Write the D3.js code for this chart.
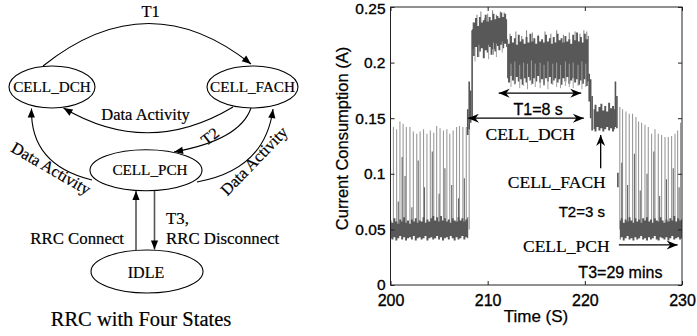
<!DOCTYPE html>
<html><head><meta charset="utf-8">
<script src="https://cdn.jsdelivr.net/npm/d3@7"></script>
<style>body{margin:0;background:#fff}svg{display:block}</style>
</head><body>
<svg id="c" width="697" height="336"></svg>
<script>
// ---------------- DATA ----------------
const xTicks = [200, 210, 220, 230];
const yTicks = [0, 0.05, 0.1, 0.15, 0.2, 0.25];
const yTickLabels = ["0", "0.05", "0.1", "0.15", "0.2", "0.25"];

// dense noise band readings: [time s, low A, high A]
const pchBandA = [[200.0,.042,.058],[200.2,.041,.056],[200.4,.043,.060],[200.6,.040,.057],[200.8,.042,.055],[201.0,.044,.059],[201.2,.041,.057],[201.4,.043,.061],[201.6,.040,.056],[201.8,.042,.058],[202.0,.043,.055],[202.2,.041,.059],[202.4,.044,.057],[202.6,.040,.060],[202.8,.042,.056],[203.0,.043,.058],[203.2,.041,.057],[203.4,.042,.061],[203.6,.044,.056],[203.8,.040,.059],[204.0,.042,.057],[204.2,.043,.060],[204.4,.041,.062],[204.6,.042,.058],[204.8,.044,.061],[205.0,.041,.057],[205.2,.043,.062],[205.4,.040,.058],[205.6,.042,.060],[205.8,.043,.057],[206.0,.041,.059],[206.2,.044,.056],[206.4,.042,.060],[206.6,.040,.058],[206.8,.043,.057],[207.0,.041,.061],[207.2,.042,.058],[207.4,.044,.060],[207.6,.041,.057],[207.8,.043,.059],[208.0,.042,.061]];
const dchBandA = [[208.4,.212,.230],[208.6,.206,.236],[208.8,.214,.240],[209.0,.205,.233],[209.2,.210,.241],[209.4,.213,.236],[209.6,.204,.238],[209.8,.211,.243],[210.0,.209,.237],[210.2,.214,.241],[210.4,.207,.238],[210.6,.212,.244],[210.8,.210,.239],[211.0,.215,.242],[211.2,.211,.240],[211.4,.216,.245],[211.6,.213,.241],[211.8,.217,.244],[212.0,.214,.239]];
const dchBandB = [[212.0,.186,.221],[212.2,.182,.217],[212.4,.188,.224],[212.6,.184,.218],[212.8,.181,.222],[213.0,.187,.216],[213.2,.183,.225],[213.4,.185,.219],[213.6,.180,.221],[213.8,.186,.217],[214.0,.182,.223],[214.2,.187,.218],[214.4,.184,.226],[214.6,.181,.219],[214.8,.186,.222],[215.0,.183,.217],[215.2,.188,.224],[215.4,.182,.219],[215.6,.185,.221],[215.8,.180,.218],[216.0,.186,.225],[216.2,.183,.219],[216.4,.187,.222],[216.6,.181,.217],[216.8,.184,.223],[217.0,.186,.218],[217.2,.182,.226],[217.4,.185,.220],[217.6,.180,.222],[217.8,.186,.218],[218.0,.183,.224],[218.2,.187,.219],[218.4,.181,.221],[218.6,.184,.217],[218.8,.186,.225],[219.0,.182,.220],[219.2,.185,.227],[219.4,.180,.219],[219.6,.184,.223],[219.8,.181,.218],[220.0,.185,.226],[220.2,.179,.221],[220.4,.183,.224]];
const fachBand = [[220.9,.140,.158],[221.1,.138,.162],[221.3,.142,.156],[221.5,.139,.160],[221.7,.141,.163],[221.9,.138,.157],[222.1,.140,.161],[222.3,.142,.156],[222.5,.139,.164],[222.7,.141,.159],[222.9,.138,.161],[223.1,.140,.158]];
const pchBandB = [[223.6,.041,.058],[223.8,.043,.060],[224.0,.040,.056],[224.2,.042,.059],[224.4,.044,.057],[224.6,.041,.061],[224.8,.042,.058],[225.0,.040,.056],[225.2,.043,.060],[225.4,.041,.057],[225.6,.042,.059],[225.8,.044,.056],[226.0,.041,.060],[226.2,.042,.058],[226.4,.040,.061],[226.6,.043,.057],[226.8,.041,.059],[227.0,.042,.056],[227.2,.044,.060],[227.4,.041,.058],[227.6,.040,.057],[227.8,.043,.061],[228.0,.042,.058],[228.2,.041,.056],[228.4,.043,.059],[228.6,.040,.057],[228.8,.042,.060],[229.0,.044,.058],[229.2,.041,.062],[229.4,.042,.057],[229.6,.043,.060],[229.8,.041,.058],[230.0,.042,.059]];

// paging spikes in CELL_PCH: [time, peak A]
const pchSpikes = [[200.3,.142],[200.63,.140],[200.97,.147],[201.3,.145],[201.63,.142],[202.0,.142],[202.35,.138],[202.7,.136],[203.05,.138],[203.4,.140],[203.75,.136],[204.1,.139],[204.45,.137],[204.75,.143],[205.1,.141],[205.45,.139],[205.8,.140],[206.1,.136],[206.45,.139],[206.8,.142],[207.1,.143],[207.45,.142],[207.8,.142],[208.1,.144],
  [223.6,.160],[223.88,.158],[224.23,.156],[224.57,.154],[224.91,.154],[225.26,.151],[225.53,.147],[225.84,.146],[226.19,.144],[226.53,.142],[226.87,.136],[227.22,.140],[227.56,.136],[227.9,.135],[228.25,.133],[228.59,.133],[228.93,.134],[229.28,.136],[229.55,.139],[229.85,.146]];
const pchMidSpikes = [[200.8,.075],[201.2,.115],[201.5,.098],[202.2,.070],[202.85,.112],[203.5,.088],[204.3,.120],[205.0,.082],[205.6,.105],[206.3,.090],[207.0,.078],[207.6,.096],
  [223.8,.110],[224.4,.090],[225.1,.118],[225.7,.085],[226.4,.100],[227.1,.120],[227.7,.080],[228.4,.095],[229.1,.105],[229.7,.088]];
// spikes above the DCH bands: [time, peak A]
const dchSpikesUp = [[208.5,.236],[208.9,.243],[209.3,.246],[209.7,.240],[210.0,.244],[210.5,.247],[210.9,.243],[211.3,.246],[211.7,.245],
  [212.3,.226],[212.9,.228],[213.5,.224],[214.0,.229],[214.6,.227],[215.2,.225],[215.9,.228],[216.5,.226],[217.1,.229],[217.8,.225],[218.4,.227],[219.0,.228],[219.5,.226],[219.9,.229],[220.2,.228]];
// light streaks inside / below DCH bands: [time, from A, to A]
const dchStreaks = [[208.7,.214,.201],[209.1,.216,.205],[210.1,.216,.203],[210.6,.218,.207],[210.9,.217,.205],[211.5,.219,.209],
  [212.4,.199,.178],[212.8,.201,.180],[213.3,.198,.177],[213.7,.200,.179],[214.1,.199,.176],[214.5,.202,.180],[214.9,.199,.178],[215.4,.200,.177],[215.8,.198,.179],[216.2,.201,.176],[216.7,.199,.180],[217.1,.200,.178],[217.5,.198,.177],[218.0,.201,.179],[218.4,.199,.178],[218.8,.200,.177],[219.3,.198,.179],[219.7,.201,.176],[220.1,.199,.178]];
// state-transition edges: [time, low A, high A]
const edges = [[207.95,.135,.158],[208.1,.140,.183],[208.25,.146,.175],[208.4,.150,.229],[220.45,.165,.190],[220.6,.150,.185],[220.75,.139,.170],[223.15,.142,.183],[223.3,.141,.170],[223.4,.088,.101]];

// annotations (data coordinates)
const dblArrows = [{t0:211.13, t1:219.63, v:0.1725}, {t0:207.97, t1:219.9, v:0.150}];
const oneArrows = [{t0:221.63, v0:0.105, t1:221.63, v1:0.135}, {t0:223.5, v0:0.036, t1:229.55, v1:0.036}];
const plotLabels = [
  {text:"T1=8 s", t:215.2, v:0.1528, serif:false},
  {text:"CELL_DCH", t:214.38, v:0.1304, serif:true},
  {text:"CELL_FACH", t:217.11, v:0.0870, serif:true},
  {text:"T2=3 s", t:219.69, v:0.0614, serif:false},
  {text:"CELL_PCH", t:218.09, v:0.0300, serif:true},
  {text:"T3=29 mins", t:223.66, v:0.0066, serif:false}
];

// ---------------- DRAWING ----------------
const svg = d3.select("#c");
const defs = svg.append("defs");
defs.append("marker").attr("id","dA").attr("viewBox","-10 -5 10 10").attr("refX",0).attr("refY",0)
  .attr("markerWidth",10).attr("markerHeight",10).attr("markerUnits","userSpaceOnUse").attr("orient","auto")
  .append("path").attr("d","M0,0L-9,-3.6L-9,3.6Z").attr("fill","#000");
defs.append("marker").attr("id","pA").attr("viewBox","-12 -6 12 12").attr("refX",0).attr("refY",0)
  .attr("markerWidth",12).attr("markerHeight",12).attr("markerUnits","userSpaceOnUse").attr("orient","auto-start-reverse")
  .append("path").attr("d","M0,0L-11,-4.5L-7.5,0L-11,4.5Z").attr("fill","#000");

// ---- left: state diagram ----
const serif = "'Liberation Serif','Times New Roman',serif";
const sans = "'Liberation Sans',Arial,Helvetica,sans-serif";
const dg = svg.append("g").attr("font-family", serif).attr("fill","#000");
const states = [
  {name:"CELL_DCH", cx:52, cy:87, rx:43, ry:21, ty:92},
  {name:"CELL_FACH", cx:252.5, cy:87, rx:45.5, ry:21, ty:92},
  {name:"CELL_PCH", cx:146, cy:170.3, rx:56, ry:20.5, ty:175, tx:150},
  {name:"IDLE", cx:147, cy:271.5, rx:56, ry:21.5, ty:278, tx:146, fs:16}
];
function qpath(x0,y0,cx,cy,x1,y1){const p=d3.path();p.moveTo(x0,y0);p.quadraticCurveTo(cx,cy,x1,y1);return p.toString();}
function lpath(x0,y0,x1,y1){const p=d3.path();p.moveTo(x0,y0);p.lineTo(x1,y1);return p.toString();}
const edgesDiag = [
  {d:qpath(43,66,148,-18,251,64)},
  {d:qpath(233,107,148,158,63.5,108)},
  {d:qpath(251,108,240,140,174,152)},
  {d:qpath(92,180,30,165,31.5,108.5)},
  {d:qpath(197,182,265,170,273,109)},
  {d:lpath(136,250,136,191), gray:true},
  {d:lpath(154.5,191,154.5,249.5), gray:true}
];
dg.selectAll("path.e").data(edgesDiag).join("path").attr("class","e")
  .attr("d",d=>d.d).attr("fill","none").attr("stroke",d=>d.gray?"#555":"#000")
  .attr("stroke-width",d=>d.gray?1.6:1.1).attr("marker-end","url(#dA)");
dg.selectAll("ellipse").data(states).join("ellipse")
  .attr("cx",d=>d.cx).attr("cy",d=>d.cy).attr("rx",d=>d.rx).attr("ry",d=>d.ry)
  .attr("fill","#fff").attr("stroke","#000").attr("stroke-width",1.1);
dg.selectAll("text.s").data(states).join("text").attr("class","s")
  .attr("x",d=>d.tx||d.cx).attr("y",d=>d.ty).attr("text-anchor","middle")
  .attr("font-size",d=>(d.fs||15.2)+"px").attr("stroke","#000").attr("stroke-width",0.2).text(d=>d.name);
const diagLabels = [
  {text:"T1", x:150.7, y:17.3, fs:16.5},
  {text:"Data Activity", x:145.5, y:120, fs:16.5},
  {text:"T2", x:210, y:136.5, fs:16, rot:-38, c:true},
  {text:"Data Activity", x:51, y:168.5, fs:16.5, rot:30, c:true},
  {text:"Data Activity", x:254, y:161, fs:16.5, rot:-46, c:true},
  {text:"RRC Connect", x:124, y:244.3, fs:16.8, a:"end"},
  {text:"T3,", x:166, y:223.5, fs:16.8, a:"start"},
  {text:"RRC Disconnect", x:166, y:244.3, fs:16.8, a:"start"},
  {text:"RRC with Four States", x:141, y:326, fs:20.5}
];
dg.selectAll("text.l").data(diagLabels).join("text").attr("class","l")
  .attr("transform",d=>`translate(${d.x},${d.y})`+(d.rot?` rotate(${d.rot})`:""))
  .attr("text-anchor",d=>d.a||"middle").attr("dy",d=>d.c?"0.33em":null)
  .attr("font-size",d=>d.fs+"px").attr("stroke","#000").attr("stroke-width",0.2).text(d=>d.text);

// ---- right: current consumption plot ----
const x = d3.scaleLinear().domain([200,230]).range([390.5,682]);
const y = d3.scaleLinear().domain([0,0.25]).range([285,7]);
const pg = svg.append("g");
defs.append("clipPath").attr("id","clip").append("rect")
  .attr("x",390.5).attr("y",7).attr("width",682-390.5).attr("height",285-7);
const sig = pg.append("g").attr("clip-path","url(#clip)");

// light spikes (under bands)
sig.selectAll("line.sp").data(pchSpikes).join("line").attr("class","sp")
  .attr("x1",d=>x(d[0])).attr("x2",d=>x(d[0])).attr("y1",y(0.05)).attr("y2",d=>y(d[1]))
  .attr("stroke","#9a9a9a").attr("stroke-width",1.1);
sig.selectAll("line.su").data(dchSpikesUp).join("line").attr("class","su")
  .attr("x1",d=>x(d[0])).attr("x2",d=>x(d[0])).attr("y1",d=>y(d[1]-0.015)).attr("y2",d=>y(d[1]))
  .attr("stroke","#8a8a8a").attr("stroke-width",1.1);
sig.selectAll("line.mp").data(pchMidSpikes).join("line").attr("class","mp")
  .attr("x1",d=>x(d[0])).attr("x2",d=>x(d[0])).attr("y1",y(0.05)).attr("y2",d=>y(d[1]))
  .attr("stroke","#666").attr("stroke-width",1.1);

const area = d3.area().curve(d3.curveStep).x(d=>x(d[0])).y0(d=>y(d[1])).y1(d=>y(d[2]));
[pchBandA, dchBandA, dchBandB, fachBand, pchBandB].forEach(b=>{
  sig.append("path").datum(b).attr("d",area).attr("fill","#585858");
});
sig.selectAll("line.ed").data(edges).join("line").attr("class","ed")
  .attr("x1",d=>x(d[0])).attr("x2",d=>x(d[0])).attr("y1",d=>y(d[1])).attr("y2",d=>y(d[2]))
  .attr("stroke","#555").attr("stroke-width",1.6);
sig.selectAll("line.st").data(dchStreaks).join("line").attr("class","st")
  .attr("x1",d=>x(d[0])).attr("x2",d=>x(d[0])).attr("y1",d=>y(d[1])).attr("y2",d=>y(d[2]))
  .attr("stroke","#a0a0a0").attr("stroke-width",1);

// axes
const fr = pg.append("g").attr("font-family",sans);
const axB = fr.append("g").attr("transform","translate(0,285)")
  .call(d3.axisBottom(x).tickValues(xTicks).tickFormat(d3.format("d")).tickSizeInner(-4).tickSizeOuter(0).tickPadding(10));
const axT = fr.append("g").attr("transform","translate(0,7)")
  .call(d3.axisTop(x).tickValues(xTicks).tickFormat("").tickSizeInner(-4).tickSizeOuter(0));
const axL = fr.append("g").attr("transform","translate(390.5,0)")
  .call(d3.axisLeft(y).tickValues(yTicks).tickFormat((d,i)=>yTickLabels[i]).tickSizeInner(-4).tickSizeOuter(0).tickPadding(5));
const axR = fr.append("g").attr("transform","translate(682,0)")
  .call(d3.axisRight(y).tickValues(yTicks).tickFormat("").tickSizeInner(-4).tickSizeOuter(0));
[axB,axT,axL,axR].forEach(a=>{a.select(".domain").remove();a.selectAll("line").attr("stroke","#222");});
axB.selectAll("text").attr("font-size","16px").attr("fill","#000").attr("stroke","#000").attr("stroke-width",0.35);
axL.selectAll("text").attr("font-size","15.5px").attr("fill","#000").attr("stroke","#000").attr("stroke-width",0.35);
axL.selectAll(".tick").filter(d=>d===0.25).select("text").attr("dy","0.4em");
fr.append("rect").attr("x",390.5).attr("y",7).attr("width",682-390.5).attr("height",278)
  .attr("fill","none").attr("stroke","#222").attr("stroke-width",1);
fr.append("text").attr("x",536).attr("y",322).attr("text-anchor","middle").attr("font-size","17px")
  .attr("stroke","#000").attr("stroke-width",0.25).text("Time (S)");
fr.append("text").attr("transform","translate(347.5,138.5) rotate(-90)").attr("text-anchor","middle")
  .attr("font-size","16.5px").attr("stroke","#000").attr("stroke-width",0.25).text("Current Consumption (A)");

// annotations
const an = pg.append("g");
an.selectAll("line.da").data(dblArrows).join("line").attr("class","da")
  .attr("x1",d=>x(d.t0)).attr("x2",d=>x(d.t1)).attr("y1",d=>y(d.v)).attr("y2",d=>y(d.v))
  .attr("stroke","#000").attr("stroke-width",1.3).attr("marker-start","url(#pA)").attr("marker-end","url(#pA)");
an.selectAll("line.oa").data(oneArrows).join("line").attr("class","oa")
  .attr("x1",d=>x(d.t0)).attr("x2",d=>x(d.t1)).attr("y1",d=>y(d.v0)).attr("y2",d=>y(d.v1))
  .attr("stroke","#000").attr("stroke-width",1.3).attr("marker-end","url(#pA)");
an.selectAll("text").data(plotLabels).join("text")
  .attr("x",d=>x(d.t)).attr("y",d=>y(d.v)).attr("text-anchor","middle")
  .attr("font-family",d=>d.serif?serif:sans).attr("font-size",d=>d.serif?"17.5px":(d.text==="T2=3 s"?"15px":"16px"))
  .attr("stroke","#000").attr("stroke-width",d=>d.serif?0.2:0.3)
  .text(d=>d.text);
</script>
</body></html>
